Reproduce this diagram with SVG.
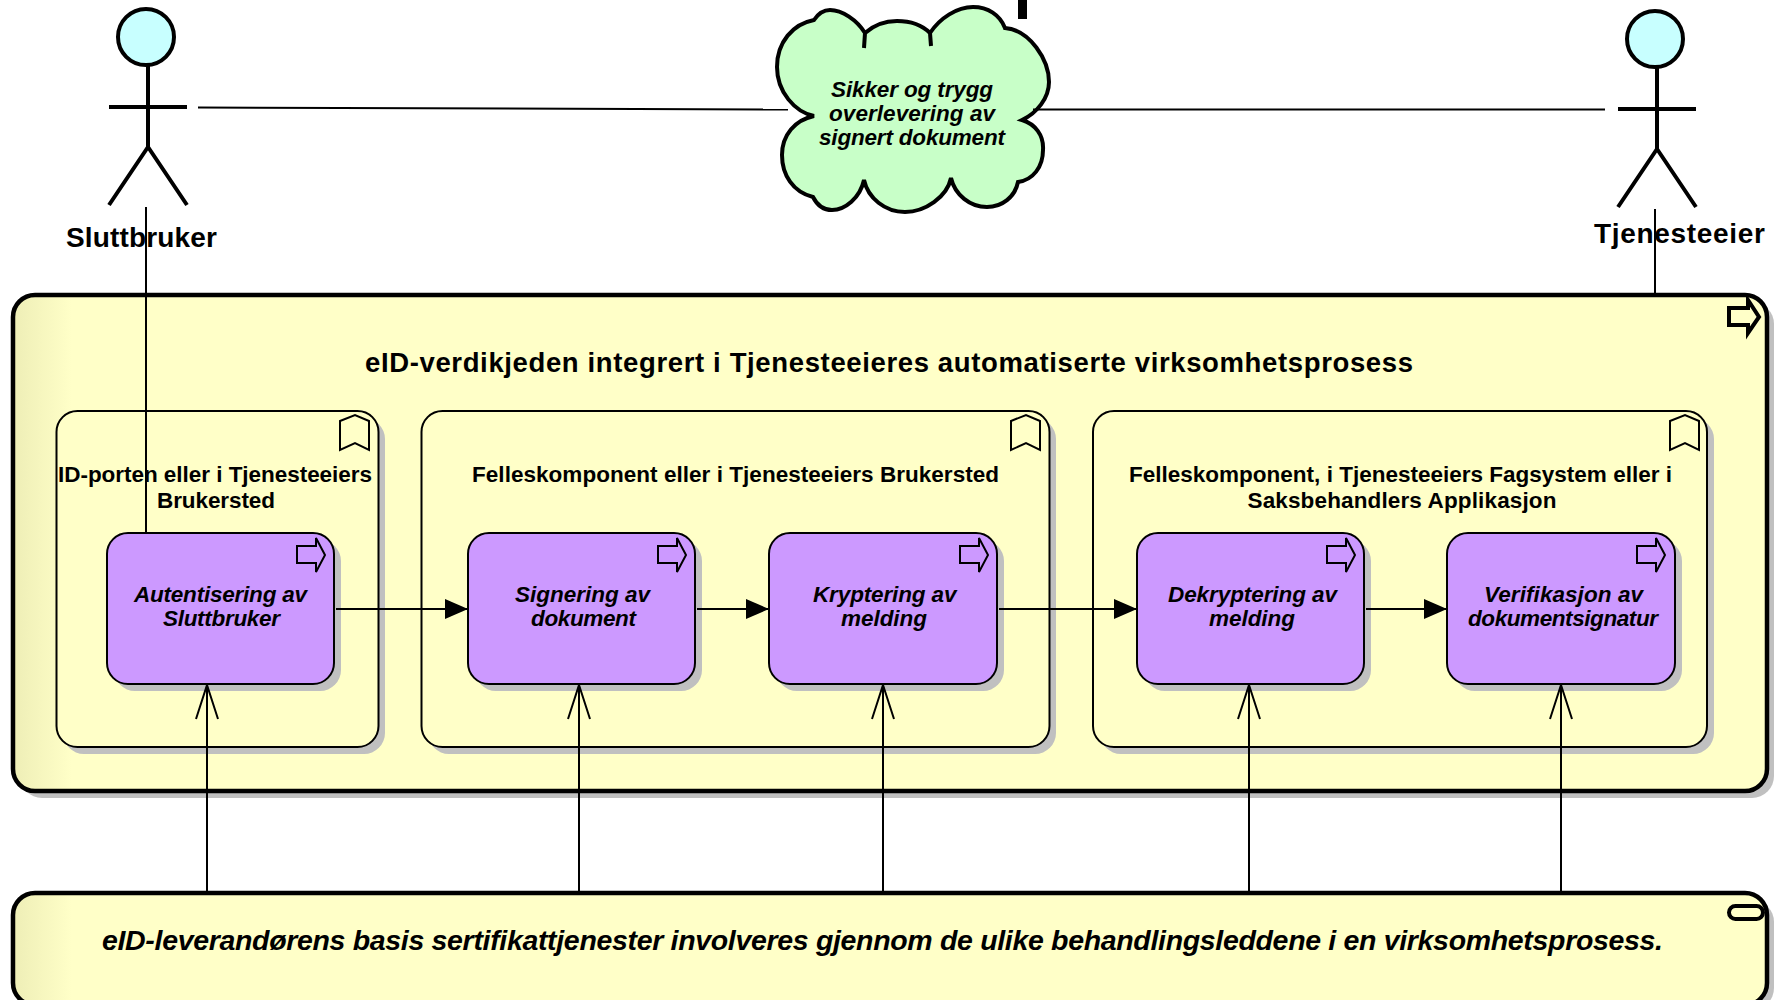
<svg xmlns="http://www.w3.org/2000/svg" width="1775" height="1000" viewBox="0 0 1775 1000">
<style>
text{font-family:"Liberation Sans",Arial,sans-serif;font-weight:bold;fill:#000}
.a{font-size:28px}
.t{font-size:27.5px}
.g{font-size:22.5px}
.p{font-size:22.5px;font-style:italic}
.b{font-size:28.500px;font-style:italic}
.sh{fill:#c0c0c0}
.big{fill:url(#grad);stroke:#000;stroke-width:4.5}
.grp{fill:#ffffc8;stroke:#000;stroke-width:2}
.proc{fill:#cc99ff;stroke:#000;stroke-width:2}
.ic{fill:none;stroke:#000;stroke-width:2}
.fig{fill:none;stroke:#000;stroke-width:4}
.c{fill:none;stroke:#000;stroke-width:2}
</style>
<defs>
<linearGradient id="grad" gradientUnits="userSpaceOnUse" x1="13" y1="0" x2="72" y2="0"><stop offset="0" stop-color="#eeeeb6"/><stop offset="1" stop-color="#ffffc8"/></linearGradient>
<marker id="fill" markerUnits="userSpaceOnUse" markerWidth="24" markerHeight="22" refX="23" refY="10" orient="auto"><path d="M0,0L23,10L0,20z" fill="#000"/></marker>
<marker id="open" markerUnits="userSpaceOnUse" markerWidth="38" markerHeight="28" refX="36" refY="13" orient="auto"><path d="M2,2L36,13L2,24" fill="none" stroke="#000" stroke-width="2"/></marker>
</defs>
<rect width="1775" height="1000" fill="#fff"/>
<g id="basis">
<rect class="sh" x="20" y="900" width="1754" height="110" rx="22"/>
<rect class="big" x="13" y="893" width="1754" height="112" rx="22"/>
<rect class="fig" x="1729" y="906" width="34" height="13" rx="6.500"/>
<text class="b" x="102" y="950" textLength="1561" lengthAdjust="spacing">eID-leverandørens basis sertifikattjenester involveres gjennom de ulike behandlingsleddene i en virksomhetsprosess.</text>
</g>
<g id="verdikjede">
<rect class="sh" x="20" y="302" width="1754" height="496" rx="22"/>
<rect class="big" x="13" y="295" width="1754" height="496" rx="22"/>
<path class="fig" d="M1729,308H1748V300L1759,317L1748,333V325H1729Z"/>
<text class="t" x="365" y="372" textLength="1048" lengthAdjust="spacing">eID-verdikjeden integrert i Tjenesteeieres automatiserte virksomhetsprosess</text>
</g>
<g id="gruppe1">
<rect class="sh" x="63" y="418" width="322" height="336" rx="21"/>
<rect class="grp" x="56.500" y="411" width="322" height="336" rx="21"/>
<path class="ic" d="M340,421L355,415L369,421V450L355,443L340,450Z"/>
<text class="g" x="58" y="482" textLength="314" lengthAdjust="spacing">ID-porten eller i Tjenesteeiers</text>
<text class="g" x="157" y="508" textLength="118" lengthAdjust="spacing">Brukersted</text>
</g>
<g id="gruppe2">
<rect class="sh" x="428" y="418" width="628" height="336" rx="21"/>
<rect class="grp" x="421.500" y="411" width="628" height="336" rx="21"/>
<path class="ic" d="M1011,421L1026,415L1040,421V450L1026,443L1011,450Z"/>
<text class="g" x="472" y="482" textLength="527" lengthAdjust="spacing">Felleskomponent eller i Tjenesteeiers Brukersted</text>
</g>
<g id="gruppe3">
<rect class="sh" x="1100" y="418" width="614" height="336" rx="21"/>
<rect class="grp" x="1093" y="411" width="614" height="336" rx="21"/>
<path class="ic" d="M1670,421L1685,415L1699,421V450L1685,443L1670,450Z"/>
<text class="g" x="1129" y="482" textLength="543" lengthAdjust="spacing">Felleskomponent, i Tjenesteeiers Fagsystem eller i</text>
<text class="g" x="1247.500" y="508" textLength="309" lengthAdjust="spacing">Saksbehandlers Applikasjon</text>
</g>
<g id="p1">
<rect class="sh" x="114" y="540" width="227" height="151" rx="21"/>
<rect class="proc" x="107" y="533" width="227" height="151" rx="21"/>
<path class="ic" d="M297,546H316V538L325,555L316,572V563H297Z"/>
<text class="p" x="134" y="602" textLength="173" lengthAdjust="spacing">Autentisering av</text>
<text class="p" x="163" y="626" textLength="117" lengthAdjust="spacing">Sluttbruker</text>
</g>
<g id="p2">
<rect class="sh" x="475" y="540" width="227" height="151" rx="21"/>
<rect class="proc" x="468" y="533" width="227" height="151" rx="21"/>
<path class="ic" d="M658,546H677V538L686,555L677,572V563H658Z"/>
<text class="p" x="515" y="602" textLength="135" lengthAdjust="spacing">Signering av</text>
<text class="p" x="531" y="626" textLength="105" lengthAdjust="spacing">dokument</text>
</g>
<g id="p3">
<rect class="sh" x="776" y="540" width="228" height="151" rx="21"/>
<rect class="proc" x="769" y="533" width="228" height="151" rx="21"/>
<path class="ic" d="M960,546H979V538L988,555L979,572V563H960Z"/>
<text class="p" x="813" y="602" textLength="143.500" lengthAdjust="spacing">Kryptering av</text>
<text class="p" x="841" y="626" textLength="86" lengthAdjust="spacing">melding</text>
</g>
<g id="p4">
<rect class="sh" x="1144" y="540" width="227" height="151" rx="21"/>
<rect class="proc" x="1137" y="533" width="227" height="151" rx="21"/>
<path class="ic" d="M1327,546H1346V538L1355,555L1346,572V563H1327Z"/>
<text class="p" x="1168" y="602" textLength="169" lengthAdjust="spacing">Dekryptering av</text>
<text class="p" x="1209" y="626" textLength="86" lengthAdjust="spacing">melding</text>
</g>
<g id="p5">
<rect class="sh" x="1454" y="540" width="228" height="151" rx="21"/>
<rect class="proc" x="1447" y="533" width="228" height="151" rx="21"/>
<path class="ic" d="M1637,546H1656V538L1665,555L1656,572V563H1637Z"/>
<text class="p" x="1484" y="602" textLength="159" lengthAdjust="spacing">Verifikasjon av</text>
<text class="p" x="1468" y="626" textLength="190" lengthAdjust="spacing">dokumentsignatur</text>
</g>
<g id="sluttbruker">
<circle cx="146" cy="37" r="28" fill="#c8ffff" stroke="#000" stroke-width="4"/>
<path class="fig" d="M148,66V147M109,107H187M109,205L148,147L187,205"/>
<text class="a" x="66" y="247" textLength="151" lengthAdjust="spacing">Sluttbruker</text>
</g>
<g id="tjenesteeier">
<circle cx="1655" cy="39" r="28" fill="#c8ffff" stroke="#000" stroke-width="4"/>
<path class="fig" d="M1657,68V149M1618,109H1696M1618,207L1657,149L1696,207"/>
<text class="a" x="1594" y="243" textLength="171" lengthAdjust="spacing">Tjenesteeier</text>
</g>
<g id="verdi">
<rect x="1018" y="0" width="9" height="19" fill="#000"/>
<path fill="#c8ffc8" stroke="#000" stroke-width="4" d="M814,116C795,112 777,92 777,67C777,42 793,24 814,20C818,14 824,10 830,10C842,10 857,20 865,33L864,48L865,33C874,25 885,21 897,21C910,21 922,25 930,33L931,46L930,33C940,18 957,7 973,7C988,7 1000,15 1005,28C1030,30 1049,60 1049,82C1049,98 1037,113 1022,120C1035,124 1044,135 1043,150C1043,167 1033,180 1018,182C1015,197 1002,207 987,207C970,207 955,195 951,178C947,197 925,212 905,212C885,212 868,198 864,180C860,198 845,210 832,210C824,210 817,205 813,197C793,192 782,175 782,155C782,135 795,120 814,116Z"/>
<text class="p" x="831" y="97" textLength="162" lengthAdjust="spacing">Sikker og trygg</text>
<text class="p" x="829" y="121" textLength="166" lengthAdjust="spacing">overlevering av</text>
<text class="p" x="819" y="145" textLength="186" lengthAdjust="spacing">signert dokument</text>
</g>
<g id="connectors">
<path class="c" d="M198,107.500L788,109.500"/>
<path class="c" d="M1033,109.500H1605"/>
<path class="c" d="M146,207V533"/>
<path class="c" d="M1655,209V295"/>
<path class="c" marker-end="url(#fill)" d="M336,609H468"/>
<path class="c" marker-end="url(#fill)" d="M697,609H769"/>
<path class="c" marker-end="url(#fill)" d="M999,609H1137"/>
<path class="c" marker-end="url(#fill)" d="M1366,609H1447"/>
<path class="c" marker-end="url(#open)" d="M207,892V685"/>
<path class="c" marker-end="url(#open)" d="M579,892V685"/>
<path class="c" marker-end="url(#open)" d="M883,892V685"/>
<path class="c" marker-end="url(#open)" d="M1249,892V685"/>
<path class="c" marker-end="url(#open)" d="M1561,892V685"/>
</g>
</svg>
